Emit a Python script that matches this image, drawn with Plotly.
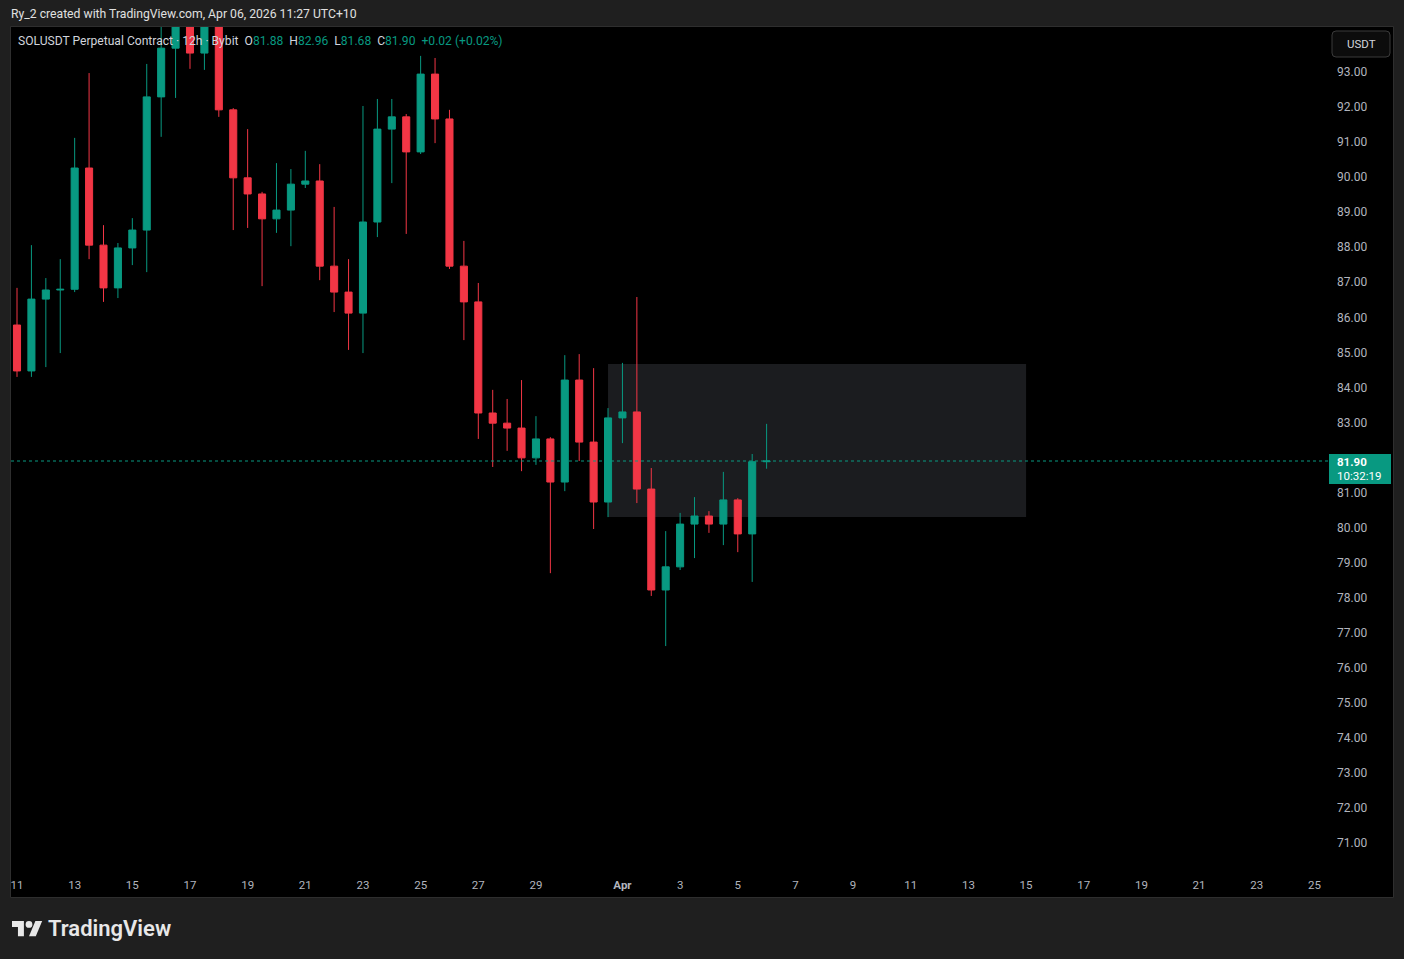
import plotly.graph_objects as go
import pandas as pd

# ---------------- data ----------------
start_time = "2026-03-11 00:00"
opens = [85.78, 84.47, 86.52, 86.78, 86.80, 90.26, 88.06, 86.84, 87.98, 88.49,
         92.29, 93.68, 94.70, 93.54, 94.60, 91.92, 89.98, 89.52, 88.81, 89.06,
         89.80, 89.89, 87.46, 86.72, 86.12, 88.72, 91.37, 91.72, 90.72, 92.94,
         91.66, 87.46, 86.44, 83.27, 82.98, 82.84, 81.99, 82.53, 81.30, 84.21,
         82.44, 80.73, 83.13, 83.30, 81.10, 78.22, 78.88, 80.10, 80.33, 80.10,
         80.79, 79.82, 81.88]
highs = [86.84, 88.06, 87.12, 87.66, 91.12, 92.97, 88.63, 88.12, 88.83, 93.23,
         94.60, 95.00, 95.10, 95.00, 94.90, 91.97, 91.37, 89.58, 90.40, 90.23,
         90.75, 90.37, 89.15, 87.66, 92.03, 92.23, 92.23, 91.80, 93.46, 93.40,
         91.92, 88.18, 86.98, 83.93, 83.67, 84.21, 83.18, 82.58, 84.92, 84.95,
         84.55, 83.41, 84.70, 86.58, 81.70, 79.90, 80.42, 80.87, 80.47, 81.59,
         80.84, 82.10, 82.96]
lows = [84.30, 84.30, 84.58, 84.98, 86.72, 87.66, 86.44, 86.55, 87.49, 87.29,
        91.15, 92.26, 93.09, 93.06, 91.72, 88.49, 88.55, 86.89, 88.41, 88.03,
        89.69, 87.06, 86.15, 85.07, 84.98, 88.29, 89.83, 88.38, 90.66, 90.97,
        87.38, 85.35, 82.53, 81.73, 82.19, 81.61, 81.79, 78.70, 81.04, 81.90,
        79.96, 80.30, 82.41, 80.70, 78.05, 76.62, 78.79, 79.13, 79.85, 79.50,
        79.30, 78.45, 81.68]
closes = [84.47, 86.52, 86.78, 86.80, 90.26, 88.06, 86.84, 87.98, 88.49, 92.29,
          93.68, 94.70, 93.54, 94.60, 91.92, 89.98, 89.52, 88.81, 89.06, 89.80,
          89.89, 87.46, 86.72, 86.12, 88.72, 91.37, 91.72, 90.72, 92.94, 91.66,
          87.46, 86.44, 83.27, 82.98, 82.84, 81.99, 82.53, 81.30, 84.21, 82.44,
          80.73, 83.13, 83.30, 81.10, 78.22, 78.88, 80.10, 80.33, 80.10, 80.79,
          79.82, 81.88, 81.90]
dates = pd.date_range(start_time, periods=len(opens), freq="12h")

x_tick_dates = ["2026-03-11", "2026-03-13", "2026-03-15", "2026-03-17", "2026-03-19",
                "2026-03-21", "2026-03-23", "2026-03-25", "2026-03-27", "2026-03-29",
                "2026-04-01", "2026-04-03", "2026-04-05", "2026-04-07", "2026-04-09",
                "2026-04-11", "2026-04-13", "2026-04-15", "2026-04-17", "2026-04-19",
                "2026-04-21", "2026-04-23", "2026-04-25"]
x_tick_text = ["11", "13", "15", "17", "19", "21", "23", "25", "27", "29",
               "<b>Apr</b>", "3", "5", "7", "9", "11", "13", "15", "17", "19",
               "21", "23", "25"]
y_tick_vals = [71, 72, 73, 74, 75, 76, 77, 78, 79, 80, 81, 83, 84, 85, 86, 87,
               88, 89, 90, 91, 92, 93]
y_tick_text = ["%.2f" % v for v in y_tick_vals]

last_price = 81.90
countdown = "10:32:19"
zone_x = ["2026-03-31 12:00", "2026-04-15 00:00"]
zone_y = [80.30, 84.67]
x_range = ["2026-03-10 19:00", "2026-04-25 11:20"]
y_range = [70.23, 94.284]

header = "Ry_2 created with TradingView.com, Apr 06, 2026 11:27 UTC+10"
symbol = "SOLUSDT Perpetual Contract · 12h · Bybit"
ohlc_last = [("O", "81.88"), ("H", "82.96"), ("L", "81.68"), ("C", "81.90")]
change_text = "+0.02 (+0.02%)"

# ---------------- styling ----------------
UP = "#089981"
DOWN = "#F23645"
TXT = "#d1d4dc"
AX = "#b2b5be"
FONT = "Roboto"

W, H = 1404, 959
L, R, T, B = 11, 76, 27, 89
PW, PH = W - L - R, H - T - B


def px(x):
    return (x - L) / PW


def py(y):
    return (H - B - y) / PH


fig = go.Figure()
fig.add_trace(go.Candlestick(
    x=dates, open=opens, high=highs, low=lows, close=closes,
    increasing=dict(line=dict(color=UP, width=1), fillcolor=UP),
    decreasing=dict(line=dict(color=DOWN, width=1), fillcolor=DOWN),
    whiskerwidth=0, hoverinfo="skip", showlegend=False,
))

shapes = []
# chart box (black) with thin border
shapes.append(dict(type="rect", xref="paper", yref="paper",
                   x0=px(10.5), x1=px(1393.5), y0=py(897.5), y1=py(26.5),
                   fillcolor="#000000", line=dict(color="#2e2e2e", width=1),
                   layer="below"))
# zone rectangle
shapes.append(dict(type="rect", xref="x", yref="y",
                   x0=zone_x[0], x1=zone_x[1], y0=zone_y[0], y1=zone_y[1],
                   fillcolor="#1b1c1f", line=dict(width=0), layer="below"))
# last price dotted line
shapes.append(dict(type="line", xref="paper", yref="y", x0=0, x1=1,
                   y0=last_price, y1=last_price,
                   line=dict(color=UP, width=1, dash="dot"), layer="above"))
# price badge
shapes.append(dict(type="rect", xref="paper", yref="paper",
                   x0=px(1329), x1=px(1391), y0=py(484), y1=py(454),
                   fillcolor=UP, line=dict(width=0), layer="above"))
# USDT button (rounded)
bx0, bx1, by0, by1, rr = 1332, 1390, 31, 57, 4
path = (f"M{px(bx0+rr)},{py(by0)} L{px(bx1-rr)},{py(by0)} "
        f"Q{px(bx1)},{py(by0)} {px(bx1)},{py(by0+rr)} "
        f"L{px(bx1)},{py(by1-rr)} Q{px(bx1)},{py(by1)} {px(bx1-rr)},{py(by1)} "
        f"L{px(bx0+rr)},{py(by1)} Q{px(bx0)},{py(by1)} {px(bx0)},{py(by1-rr)} "
        f"L{px(bx0)},{py(by0+rr)} Q{px(bx0)},{py(by0)} {px(bx0+rr)},{py(by0)} Z")
shapes.append(dict(type="path", xref="paper", yref="paper", path=path,
                   fillcolor="#0c0c0c", line=dict(color="#3a3a3a", width=1),
                   layer="above"))

# TradingView logo icon
s = 0.85
ox, oy = 12, 921 - 4 * s


def lp(a, b):
    return f"{px(ox + a * s)},{py(oy + b * s)}"


logo_t = f"M{lp(14,22)} L{lp(7,22)} L{lp(7,11)} L{lp(0,11)} L{lp(0,4)} L{lp(14,4)} Z"
logo_p = f"M{lp(28,22)} L{lp(20,22)} L{lp(27.5,4)} L{lp(35.5,4)} Z"
LOGO = "#e8e8e8"
shapes.append(dict(type="path", xref="paper", yref="paper", path=logo_t,
                   fillcolor=LOGO, line=dict(width=0)))
shapes.append(dict(type="path", xref="paper", yref="paper", path=logo_p,
                   fillcolor=LOGO, line=dict(width=0)))
shapes.append(dict(type="circle", xref="paper", yref="paper",
                   x0=px(ox + 16 * s), x1=px(ox + 24 * s),
                   y0=py(oy + 12 * s), y1=py(oy + 4 * s),
                   fillcolor=LOGO, line=dict(width=0)))

ann = []
ann.append(dict(xref="paper", yref="paper", x=px(9), y=py(14), xanchor="left",
                yanchor="middle", showarrow=False, text=header,
                font=dict(family=FONT, size=12.2, color="#e0e0e0")))
legend_txt = f'<span style="color:{TXT}">{symbol}</span>&nbsp;&nbsp;'
for k, v in ohlc_last:
    legend_txt += f'<span style="color:{TXT}">{k}</span><span style="color:{UP}">{v}</span>&nbsp;&nbsp;'
legend_txt += f'<span style="color:{UP}">{change_text}</span>'
ann.append(dict(xref="paper", yref="paper", x=px(16), y=py(41), xanchor="left",
                yanchor="middle", showarrow=False, text=legend_txt,
                font=dict(family=FONT, size=12.1, color=TXT)))
ann.append(dict(xref="paper", yref="paper", x=px(1361), y=py(44), xanchor="center",
                yanchor="middle", showarrow=False, text="USDT",
                font=dict(family=FONT, size=11.5, color=TXT)))
ann.append(dict(xref="paper", yref="paper", x=px(1335), y=py(462), xanchor="left",
                yanchor="middle", showarrow=False, text="<b>%.2f</b>" % last_price,
                font=dict(family=FONT, size=11.5, color="#ffffff")))
ann.append(dict(xref="paper", yref="paper", x=px(1335), y=py(476), xanchor="left",
                yanchor="middle", showarrow=False, text=countdown,
                font=dict(family=FONT, size=11.5, color="#ffffff")))
ann.append(dict(xref="paper", yref="paper", x=px(46), y=py(929), xanchor="left",
                yanchor="middle", showarrow=False, text="TradingView",
                font=dict(family=FONT, size=22, color=LOGO, weight=600)))

fig.update_layout(
    width=W, height=H,
    margin=dict(l=L, r=R, t=T, b=B, pad=0),
    paper_bgcolor="#1f1f1f", plot_bgcolor="#000000",
    showlegend=False, shapes=shapes, annotations=ann,
    font=dict(family=FONT, size=11, color=AX),
    hovermode=False,
)
fig.update_xaxes(type="date", range=x_range, rangeslider_visible=False,
                 tickvals=x_tick_dates, ticktext=x_tick_text,
                 showgrid=False, zeroline=False, showline=False, ticks="",
                 tickfont=dict(family=FONT, size=11.5, color=AX),
                 ticklabelstandoff=6, fixedrange=True)
fig.update_yaxes(range=y_range, side="right", tickvals=y_tick_vals,
                 ticktext=y_tick_text, showgrid=False, zeroline=False,
                 showline=False, ticks="", ticklabelstandoff=8,
                 tickfont=dict(family=FONT, size=12, color=AX), fixedrange=True)

fig.write_html("out.html", config=dict(displayModeBar=False),
               post_script="document.body.style.margin='0px';document.body.style.overflow='hidden';")
